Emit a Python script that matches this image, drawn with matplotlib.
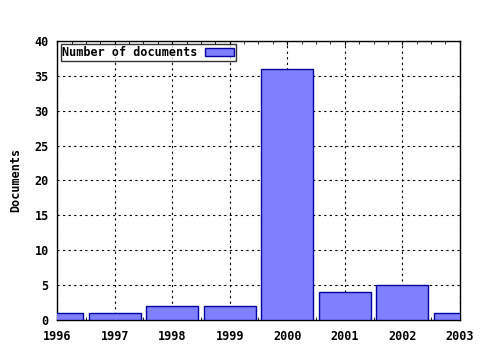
import matplotlib
matplotlib.use("Agg")
import matplotlib.pyplot as plt
from matplotlib.ticker import MultipleLocator

years = [1996, 1997, 1998, 1999, 2000, 2001, 2002, 2003]
docs = [1, 1, 2, 2, 36, 4, 5, 1]

plt.rcParams['font.family'] = 'DejaVu Sans Mono'
plt.rcParams['font.weight'] = 'bold'
plt.rcParams['axes.labelweight'] = 'bold'
plt.rcParams['font.size'] = 8.5

fig = plt.figure(figsize=(4.8, 3.5), dpi=100)
ax = fig.add_axes([0.119, 0.086, 0.839, 0.797])

ax.bar(years, docs, width=0.9, color='#8080ff', edgecolor='#0000a0',
       linewidth=1, label='Number of documents', zorder=3)

ax.set_xlim(1996, 2003)
ax.set_ylim(0, 40)
ax.set_xticks(years)
ax.set_xticklabels([str(y) for y in years])
ax.xaxis.set_minor_locator(MultipleLocator(0.25))
ax.tick_params(axis='x', which='both', direction='in', top=True, length=3, pad=7)
ax.tick_params(axis='x', which='minor', length=2)
ax.tick_params(axis='y', length=0, pad=6)
ax.grid(True, which='major', color='black', linestyle=(0, (2, 3)), linewidth=0.8, zorder=0)
ax.set_ylabel('Documents', labelpad=9)
for s in ax.spines.values():
    s.set_linewidth(1)

leg = ax.legend(loc='upper left', markerfirst=False, frameon=True, fancybox=False,
                borderpad=0.15, handlelength=2.5, handleheight=0.6,
                borderaxespad=0.3, handletextpad=0.6)
leg.get_frame().set_edgecolor('black')
leg.get_frame().set_linewidth(1)

fig.savefig('out.png', dpi=100)
